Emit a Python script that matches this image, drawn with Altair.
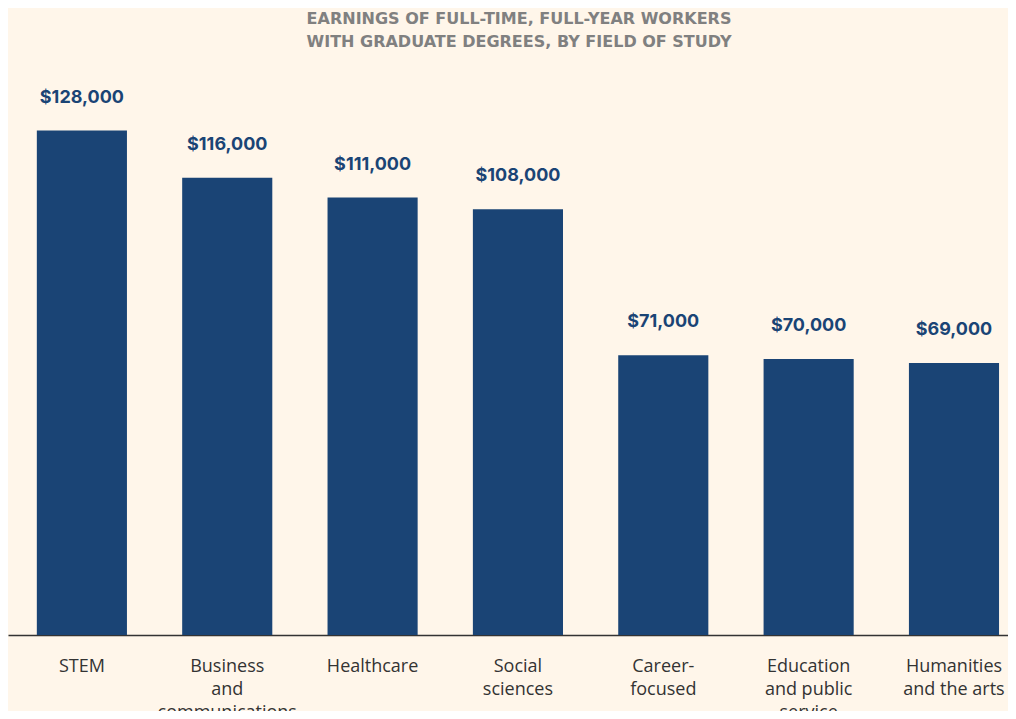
import altair as alt
import pandas as pd

fields = ["STEM", "Business and communications", "Healthcare", "Social sciences",
          "Career-focused", "Education and public service", "Humanities and the arts"]
label_lines = [["STEM"], ["Business", "and", "communications"], ["Healthcare"],
               ["Social", "sciences"], ["Career-", "focused"],
               ["Education", "and public", "service"], ["Humanities", "and the arts"]]
earnings = [128000, 116000, 111000, 108000, 71000, 70000, 69000]
value_labels = ["$128,000", "$116,000", "$111,000", "$108,000", "$71,000", "$70,000", "$69,000"]

df = pd.DataFrame({"field": fields, "earnings": earnings, "label": value_labels})

# build label expression mapping category -> list of lines
mapping = "{" + ", ".join(
    "'" + f + "': [" + ", ".join("'" + l + "'" for l in lines) + "]"
    for f, lines in zip(fields, label_lines)) + "}"
label_expr = mapping + "[datum.label]"

BG = "#fff6ea"
BAR = "#1a4475"
FONT = "Inter"

x = alt.X("field:N", sort=fields, title=None,
          scale=alt.Scale(paddingInner=0.38, paddingOuter=0.13, align=0.763),
          axis=alt.Axis(labelExpr=label_expr, labelAngle=0, labelFontSize=18,
                        labelColor="#333333", labelFont="Open Sans", labelPadding=22,
                        labelLineHeight=23, ticks=False, domainColor="#333333",
                        domainWidth=1.5, labelBaseline="top", labelLimit=300))
y = alt.Y("earnings:Q", title=None, scale=alt.Scale(domain=[0, 136000], nice=False),
          axis=None)

bars = alt.Chart(df).mark_bar(color=BAR).encode(x=x, y=y)
text = alt.Chart(df).mark_text(baseline="bottom", dy=-24, fontSize=18,
                               fontWeight="bold", color=BAR, font=FONT).encode(
    x=alt.X("field:N", sort=fields), y="earnings:Q", text="label:N")

chart = alt.layer(bars, text).properties(
    width=1000, height=536,
    title=alt.TitleParams(
        text=["EARNINGS OF FULL-TIME, FULL-YEAR WORKERS",
              "WITH GRADUATE DEGREES, BY FIELD OF STUDY"],
        anchor="middle", fontSize=16, fontWeight="bold", color="#808080",
        font="DejaVu Sans", lineHeight=23, offset=39),
    autosize=alt.AutoSizeParams(type="none"),
    padding={"left": 0, "top": 91, "right": 0, "bottom": 76},
    background=BG,
).configure_view(stroke=None).configure_title(dx=11)

chart.save("out.html", embed_options={"renderer": "svg", "actions": False})
